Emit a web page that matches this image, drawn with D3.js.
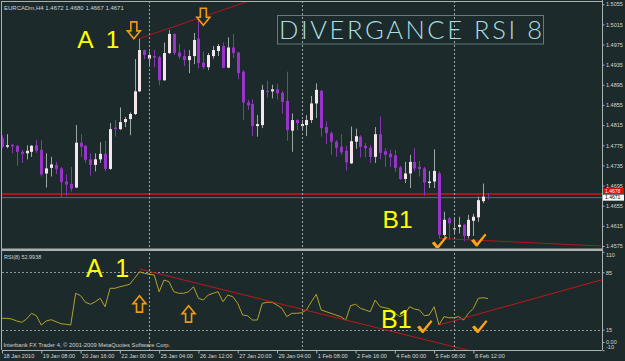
<!DOCTYPE html>
<html>
<head>
<meta charset="utf-8">
<script src="https://cdn.jsdelivr.net/npm/d3@7"></script>
<style>
  html, body { margin: 0; padding: 0; background: #1d2a2b; }
  svg { display: block; font-family: "Liberation Sans", Arial, sans-serif; }
  text.note { white-space: pre; }
</style>
</head>
<body>
<svg id="chart" width="625" height="361"></svg>
<script>
// EURCADm H4, one value per bar, oldest first (bar 0 = 18 Jan 2010 00:00)
const opens = [
  1.4789, 1.4772, 1.4776, 1.4774, 1.4762, 1.4759, 1.4762, 1.4775, 1.4766, 1.4719,
  1.4730, 1.4736, 1.4729, 1.4703, 1.4698, 1.4691, 1.4780, 1.4774, 1.4747, 1.4736,
  1.4747, 1.4758, 1.4728, 1.4810, 1.4807, 1.4821, 1.4827, 1.4837, 1.4882, 1.4964,
  1.4947, 1.4952, 1.4950, 1.4904, 1.4958, 1.4996, 1.4959, 1.4952, 1.4944, 1.4952,
  1.4987, 1.4939, 1.4930, 1.4952, 1.4962, 1.4972, 1.4929, 1.4969, 1.4959, 1.4921,
  1.4860, 1.4857, 1.4813, 1.4815, 1.4883, 1.4882, 1.4886, 1.4879, 1.4863, 1.4804,
  1.4825, 1.4813, 1.4815, 1.4825, 1.4858, 1.4883, 1.4811, 1.4799, 1.4782, 1.4772,
  1.4764, 1.4739, 1.4782, 1.4792, 1.4774, 1.4770, 1.4752, 1.4797, 1.4763, 1.4758,
  1.4755, 1.4731, 1.4708, 1.4719, 1.4742, 1.4732, 1.4729, 1.4700, 1.4703, 1.4719,
  1.4597, 1.4630, 1.4608, 1.4613, 1.4617, 1.4595, 1.4625, 1.4632, 1.4664, 1.4672
];
const highs = [
  1.4795, 1.4797, 1.4777, 1.4774, 1.4766, 1.4775, 1.4775, 1.4785, 1.4785, 1.4759,
  1.4752, 1.4742, 1.4732, 1.4717, 1.4732, 1.4815, 1.4797, 1.4775, 1.4759, 1.4759,
  1.4781, 1.4784, 1.4819, 1.4825, 1.4850, 1.4831, 1.4840, 1.4946, 1.4987, 1.4965,
  1.4961, 1.4964, 1.4952, 1.4979, 1.5004, 1.4997, 1.4976, 1.4965, 1.4964, 1.4998,
  1.5027, 1.4961, 1.4958, 1.4972, 1.4976, 1.4979, 1.4989, 1.4996, 1.4960, 1.4924,
  1.4865, 1.4866, 1.4835, 1.4895, 1.4903, 1.4895, 1.4897, 1.4883, 1.4921, 1.4838,
  1.4827, 1.4825, 1.4835, 1.4873, 1.4898, 1.4885, 1.4822, 1.4802, 1.4785, 1.4797,
  1.4774, 1.4812, 1.4808, 1.4795, 1.4779, 1.4775, 1.4811, 1.4832, 1.4769, 1.4766,
  1.4766, 1.4734, 1.4742, 1.4756, 1.4769, 1.4744, 1.4732, 1.4724, 1.4767, 1.4723,
  1.4643, 1.4633, 1.4630, 1.4633, 1.4619, 1.4637, 1.4639, 1.4673, 1.4699, 1.4680
];
const lows = [
  1.4769, 1.4769, 1.4759, 1.4734, 1.4740, 1.4747, 1.4752, 1.4760, 1.4713, 1.4691,
  1.4713, 1.4718, 1.4671, 1.4675, 1.4683, 1.4690, 1.4752, 1.4740, 1.4715, 1.4723,
  1.4740, 1.4723, 1.4726, 1.4792, 1.4805, 1.4811, 1.4795, 1.4835, 1.4881, 1.4946,
  1.4934, 1.4930, 1.4894, 1.4903, 1.4956, 1.4954, 1.4946, 1.4932, 1.4918, 1.4936,
  1.4928, 1.4926, 1.4924, 1.4947, 1.4952, 1.4928, 1.4928, 1.4948, 1.4906, 1.4825,
  1.4845, 1.4793, 1.4792, 1.4809, 1.4870, 1.4868, 1.4866, 1.4838, 1.4784, 1.4762,
  1.4805, 1.4805, 1.4793, 1.4819, 1.4829, 1.4792, 1.4777, 1.4756, 1.4752, 1.4756,
  1.4725, 1.4738, 1.4768, 1.4751, 1.4751, 1.4740, 1.4740, 1.4747, 1.4732, 1.4732,
  1.4722, 1.4706, 1.4700, 1.4690, 1.4723, 1.4713, 1.4675, 1.4690, 1.4690, 1.4590,
  1.4594, 1.4587, 1.4600, 1.4600, 1.4584, 1.4590, 1.4595, 1.4623, 1.4660, 1.4667
];
const closes = [
  1.4772, 1.4775, 1.4773, 1.4762, 1.4758, 1.4764, 1.4774, 1.4764, 1.4717, 1.4729,
  1.4737, 1.4728, 1.4702, 1.4697, 1.4689, 1.4780, 1.4772, 1.4746, 1.4736, 1.4747,
  1.4758, 1.4728, 1.4807, 1.4807, 1.4821, 1.4827, 1.4837, 1.4882, 1.4964, 1.4954,
  1.4954, 1.4949, 1.4904, 1.4958, 1.4996, 1.4958, 1.4951, 1.4944, 1.4952, 1.4984,
  1.4938, 1.4930, 1.4954, 1.4964, 1.4972, 1.4929, 1.4969, 1.4958, 1.4918, 1.4860,
  1.4854, 1.4813, 1.4817, 1.4885, 1.4881, 1.4886, 1.4878, 1.4861, 1.4805, 1.4825,
  1.4819, 1.4817, 1.4825, 1.4858, 1.4885, 1.4809, 1.4799, 1.4782, 1.4770, 1.4761,
  1.4741, 1.4783, 1.4793, 1.4772, 1.4769, 1.4752, 1.4797, 1.4760, 1.4756, 1.4751,
  1.4730, 1.4708, 1.4719, 1.4742, 1.4729, 1.4728, 1.4701, 1.4703, 1.4724, 1.4597,
  1.4627, 1.4620, 1.4610, 1.4617, 1.4595, 1.4627, 1.4633, 1.4666, 1.4673, 1.4671
];
const rsiValues = [
  28.9, 28.9, 28.0, 25.6, 24.0, 28.0, 35.0, 32.1, 20.7, 25.6,
  27.2, 24.8, 22.3, 21.6, 20.7, 59.4, 56.5, 48.4, 46.0, 49.1,
  53.3, 43.0, 65.5, 65.5, 67.4, 68.7, 70.4, 77.7, 85.7, 83.8,
  82.6, 81.7, 61.3, 75.6, 73.5, 61.3, 59.4, 59.4, 61.3, 67.4,
  53.3, 51.2, 57.3, 59.4, 61.3, 49.1, 57.3, 55.2, 47.2, 32.9,
  32.1, 26.8, 26.8, 47.2, 48.4, 48.4, 45.1, 41.1, 30.9, 35.0,
  35.0, 35.7, 39.0, 49.1, 58.2, 39.0, 37.0, 35.0, 32.9, 30.9,
  26.8, 44.3, 46.0, 41.1, 39.0, 37.0, 51.2, 43.0, 41.8, 40.2,
  35.0, 30.9, 33.8, 43.0, 40.2, 39.0, 32.1, 32.9, 43.0, 20.7,
  30.9, 29.6, 29.6, 30.9, 26.8, 35.0, 41.1, 53.3, 54.0, 52.99
];
const timeLabels = ["18 Jan 2010", "19 Jan 08:00", "20 Jan 16:00", "22 Jan 00:00",
  "25 Jan 04:00", "26 Jan 12:00", "27 Jan 20:00", "29 Jan 04:00", "1 Feb 08:00",
  "2 Feb 16:00", "4 Feb 00:00", "5 Feb 08:00", "8 Feb 12:00"];
const timeTickBars = [0, 8, 16, 24, 32, 40, 48, 56, 64, 72, 80, 88, 96];
const priceTicks = [1.5055, 1.5015, 1.4975, 1.4935, 1.4895, 1.4855, 1.4815,
  1.4775, 1.4735, 1.4695, 1.4655, 1.4615, 1.4575];
const rsiTicks = [110, 85, 15, 0, -10];
const rsiLevels = [85, 15];
const weekStartBars = [30, 61, 92];
const hLinePrice = 1.4678;
const bidPrice = 1.4671;

// hand drawn objects: [bar, value] anchor pairs
const priceTrendA = [[28, 1.4987], [40, 1.5027]];
const priceTrendB = [[89, 1.4590], [122, 1.4575]];
const rsiTrendA = [[28, 89.0], [70, 26.8]];
const rsiTrendB = [[89, 20.7], [122, 75.6]];
const downArrows = [[26.85, 1.5020], [41.0, 1.5047]];
const upArrows = [[28, 56.5], [38, 44.3]];
const priceChecks = [[87.5, 1.4595], [95.5, 1.4600]];
const rsiChecks = [[84.5, 26.8], [95.7, 26.8]];
const priceNotes = [["A  1", 15.3, 1.4969], ["B1", 77.5, 1.4610]];
const rsiNotes = [["A  1", 17.1, 79.6], ["B1", 77.2, 16.7]];

const bg = "#1d2a2b";
const frame = "#a9b1b1";
const svg = d3.select("svg#chart");
const left = 2, right = 602, mainTop = 1, mainBottom = 248;
const rsiTop = 251, rsiBottom = 350;

const x = d3.scaleLinear().domain([0, 96]).range([2, 473.4]);
const y = d3.scaleLinear().domain([1.4575, 1.5055]).range([246, 4.2]);
const yr = d3.scaleLinear().domain([-10, 110]).range([350.2, 251.8]);

svg.append("rect").attr("width", 625).attr("height", 361).attr("fill", bg);

const defs = svg.append("defs");
defs.append("clipPath").attr("id", "clipMain").append("rect")
    .attr("x", left).attr("y", mainTop)
    .attr("width", right - left).attr("height", mainBottom - mainTop);
defs.append("clipPath").attr("id", "clipRsi").append("rect")
    .attr("x", left).attr("y", rsiTop)
    .attr("width", right - left).attr("height", rsiBottom - rsiTop);

const main = svg.append("g").attr("clip-path", "url(#clipMain)");
const rsiG = svg.append("g").attr("clip-path", "url(#clipRsi)");

// week separators through both panels
svg.append("g").selectAll("line").data(weekStartBars).join("line")
    .attr("x1", (d) => Math.round(x(d)) + 0.5).attr("x2", (d) => Math.round(x(d)) + 0.5)
    .attr("y1", mainTop).attr("y2", rsiBottom)
    .attr("stroke", "#9aa4a4").attr("stroke-width", 1)
    .attr("stroke-dasharray", "2,2");

// rsi levels
rsiG.selectAll("line.level").data(rsiLevels).join("line")
    .attr("class", "level")
    .attr("x1", left).attr("x2", right)
    .attr("y1", (d) => Math.round(yr(d)) + 0.5).attr("y2", (d) => Math.round(yr(d)) + 0.5)
    .attr("stroke", "#8c9a9a").attr("stroke-dasharray", "2,2");

// horizontal lines
main.append("line").attr("x1", left).attr("x2", right)
    .attr("y1", y(bidPrice)).attr("y2", y(bidPrice))
    .attr("stroke", "#5d7070").attr("stroke-width", 1);
main.append("line").attr("x1", left).attr("x2", right)
    .attr("y1", y(hLinePrice)).attr("y2", y(hLinePrice))
    .attr("stroke", "#d01616").attr("stroke-width", 1.5);

// candles
const bars = d3.range(opens.length);
const up = (i) => closes[i] >= opens[i];
const cx = (i) => Math.round(x(i)) + 0.5;
main.append("g").selectAll("line").data(bars).join("line")
    .attr("x1", cx).attr("x2", cx)
    .attr("y1", (i) => y(highs[i])).attr("y2", (i) => y(lows[i]))
    .attr("stroke", (i) => up(i) ? "#9ea6a6" : "#8338b0")
    .attr("stroke-width", 1);
main.append("g").selectAll("rect").data(bars).join("rect")
    .attr("x", (i) => cx(i) - 1.5).attr("width", 3)
    .attr("y", (i) => y(Math.max(opens[i], closes[i])))
    .attr("height", (i) => Math.max(1, Math.abs(y(opens[i]) - y(closes[i]))))
    .attr("fill", (i) => up(i) ? "#f6e6ec" : "#9a32cc");

// rsi line
rsiG.append("path").datum(rsiValues)
    .attr("fill", "none").attr("stroke", "#b3a22c").attr("stroke-width", 1)
    .attr("d", d3.line().x((d, i) => x(i)).y((d) => yr(d)));

// trend lines, extended to the right as rays where the original does
function ray(g, pts, scale, toBar, color) {
  const [[b0, v0], [b1, v1]] = pts;
  const slope = (v1 - v0) / (b1 - b0);
  g.append("line")
      .attr("x1", x(b0)).attr("y1", scale(v0))
      .attr("x2", x(toBar)).attr("y2", scale(v0 + slope * (toBar - b0)))
      .attr("stroke", color).attr("stroke-width", 1);
}
ray(main, priceTrendA, y, 70, "#b3161a");
ray(main, priceTrendB, y, 122, "#b3161a");
ray(rsiG, rsiTrendA, yr, 110, "#c0161a");
ray(rsiG, rsiTrendB, yr, 122, "#c0161a");

// annotations
const downPath = "M3,0 L9,0 L9,9 L12.5,9 L6,17 L-0.5,9 L3,9 Z";
const upPath = "M6.5,0 L13,8 L9.5,8 L9.5,16.5 L3.5,16.5 L3.5,8 L0,8 Z";
const checkPath = "M0,7 L3,5.5 L6,9.5 L14,0 L15.5,1.5 L6.5,13 L5,13 Z";

main.selectAll("path.down").data(downArrows).join("path")
    .attr("class", "down").attr("d", downPath)
    .attr("transform", (d) => "translate(" + (x(d[0]) - 6) + "," + y(d[1]) + ")")
    .attr("fill", bg).attr("stroke", "#f39a10").attr("stroke-width", 1.6);
rsiG.selectAll("path.up").data(upArrows).join("path")
    .attr("class", "up").attr("d", upPath)
    .attr("transform", (d) => "translate(" + (x(d[0]) - 6.5) + "," + yr(d[1]) + ")")
    .attr("fill", bg).attr("stroke", "#f39a10").attr("stroke-width", 1.6);
main.selectAll("path.check").data(priceChecks).join("path")
    .attr("class", "check").attr("d", checkPath)
    .attr("transform", (d) => "translate(" + x(d[0]) + "," + y(d[1]) + ")")
    .attr("fill", "#ffa414");
rsiG.selectAll("path.check").data(rsiChecks).join("path")
    .attr("class", "check").attr("d", checkPath)
    .attr("transform", (d) => "translate(" + x(d[0]) + "," + yr(d[1]) + ")")
    .attr("fill", "#ffa414");

main.selectAll("text.note").data(priceNotes).join("text")
    .attr("class", "note")
    .attr("x", (d) => x(d[1])).attr("y", (d) => y(d[2]))
    .attr("fill", "#ffff00").attr("font-size", 24.5)
    .text((d) => d[0]);
rsiG.selectAll("text.note").data(rsiNotes).join("text")
    .attr("class", "note")
    .attr("x", (d) => x(d[1])).attr("y", (d) => yr(d[2]))
    .attr("fill", "#ffff00").attr("font-size", 25)
    .text((d) => d[0]);

// title banner
svg.append("rect").attr("x", 277.5).attr("y", 15.5).attr("width", 266).attr("height", 28.5)
    .attr("fill", "none").attr("stroke", "#5f7d7d").attr("stroke-width", 1);
svg.append("text").attr("x", 279).attr("y", 38.5)
    .attr("fill", "#a9dfe0").attr("font-family", "Lato, sans-serif")
    .attr("font-weight", 300).attr("font-size", 25.5).attr("letter-spacing", 2.6)
    .text("DIVERGANCE RSI 8");

// frames
svg.append("line").attr("x1", left).attr("x2", right).attr("y1", 1.5).attr("y2", 1.5)
    .attr("stroke", frame);
svg.append("line").attr("x1", left - 0.5).attr("x2", left - 0.5).attr("y1", 1).attr("y2", rsiBottom)
    .attr("stroke", frame);
svg.append("rect").attr("x", left).attr("y", 248.5).attr("width", right - left).attr("height", 2.5)
    .attr("fill", frame);
svg.append("line").attr("x1", left).attr("x2", right).attr("y1", rsiBottom + 0.5).attr("y2", rsiBottom + 0.5)
    .attr("stroke", frame);

// price axis
const pAxis = svg.append("g").attr("transform", "translate(" + (right + 0.5) + ",0)")
    .call(d3.axisRight(y).tickValues(priceTicks).tickSize(2).tickPadding(1.5)
        .tickFormat(d3.format(".4f")));
pAxis.select(".domain").attr("stroke", frame).attr("d", "M0,0V" + rsiBottom);
pAxis.selectAll("line").attr("stroke", frame);
pAxis.selectAll("text").attr("fill", "#d4d8d8").attr("font-size", 5.5)
    .attr("font-family", "Liberation Sans, Arial, sans-serif");

// price boxes: the line label sits just above the bid label
[[hLinePrice, "#e00c0c", "#ffffff", -3], [bidPrice, "#ffffff", "#000000", 0]].forEach(([p, fill, ink, shift]) => {
  const cy = y(p) + shift;
  svg.append("rect").attr("x", right + 1).attr("y", cy - 3).attr("width", 21).attr("height", 6)
      .attr("fill", fill);
  svg.append("text").attr("x", right + 3).attr("y", cy + 1.8)
      .attr("fill", ink).attr("font-size", 5).text(d3.format(".4f")(p));
});

// rsi axis
const rAxis = svg.append("g").attr("transform", "translate(" + (right + 0.5) + ",0)")
    .call(d3.axisRight(yr).tickValues(rsiTicks).tickSize(2).tickPadding(1.5)
        .tickFormat((d) => d === 0 ? "0.00" : d));
rAxis.select(".domain").remove();
rAxis.selectAll("line").attr("stroke", frame);
rAxis.selectAll("text").attr("fill", "#d4d8d8").attr("font-size", 5.5)
    .attr("font-family", "Liberation Sans, Arial, sans-serif")
    .attr("dy", (d) => d === 110 ? "0.9em" : d === -10 ? "-0.3em" : "0.32em");

// time axis
const tAxis = svg.append("g").attr("transform", "translate(0," + (rsiBottom + 0.5) + ")")
    .call(d3.axisBottom(x).tickValues(timeTickBars).tickSize(3).tickPadding(1)
        .tickFormat((d, i) => timeLabels[i]));
tAxis.select(".domain").remove();
tAxis.selectAll("line").attr("stroke", frame);
tAxis.selectAll("text").attr("fill", "#d4d8d8").attr("font-size", 5.6)
    .attr("font-family", "Liberation Sans, Arial, sans-serif")
    .attr("text-anchor", "start").attr("dx", 1);

// captions
svg.append("text").attr("x", 4).attr("y", 9.5).attr("fill", "#cfd4d4").attr("font-size", 6)
    .text("EURCADm,H4  1.4672 1.4680 1.4667 1.4671");
svg.append("text").attr("x", 4).attr("y", 258.5).attr("fill", "#cfd4d4").attr("font-size", 5.5)
    .text("RSI(8) 52.9938");
svg.append("text").attr("x", 3.5).attr("y", 346.5).attr("fill", "#cfd4d4").attr("font-size", 5.8)
    .text("Interbank FX Trader 4, \u00a9 2001-2009 MetaQuotes Software Corp.");
</script>
</body>
</html>
